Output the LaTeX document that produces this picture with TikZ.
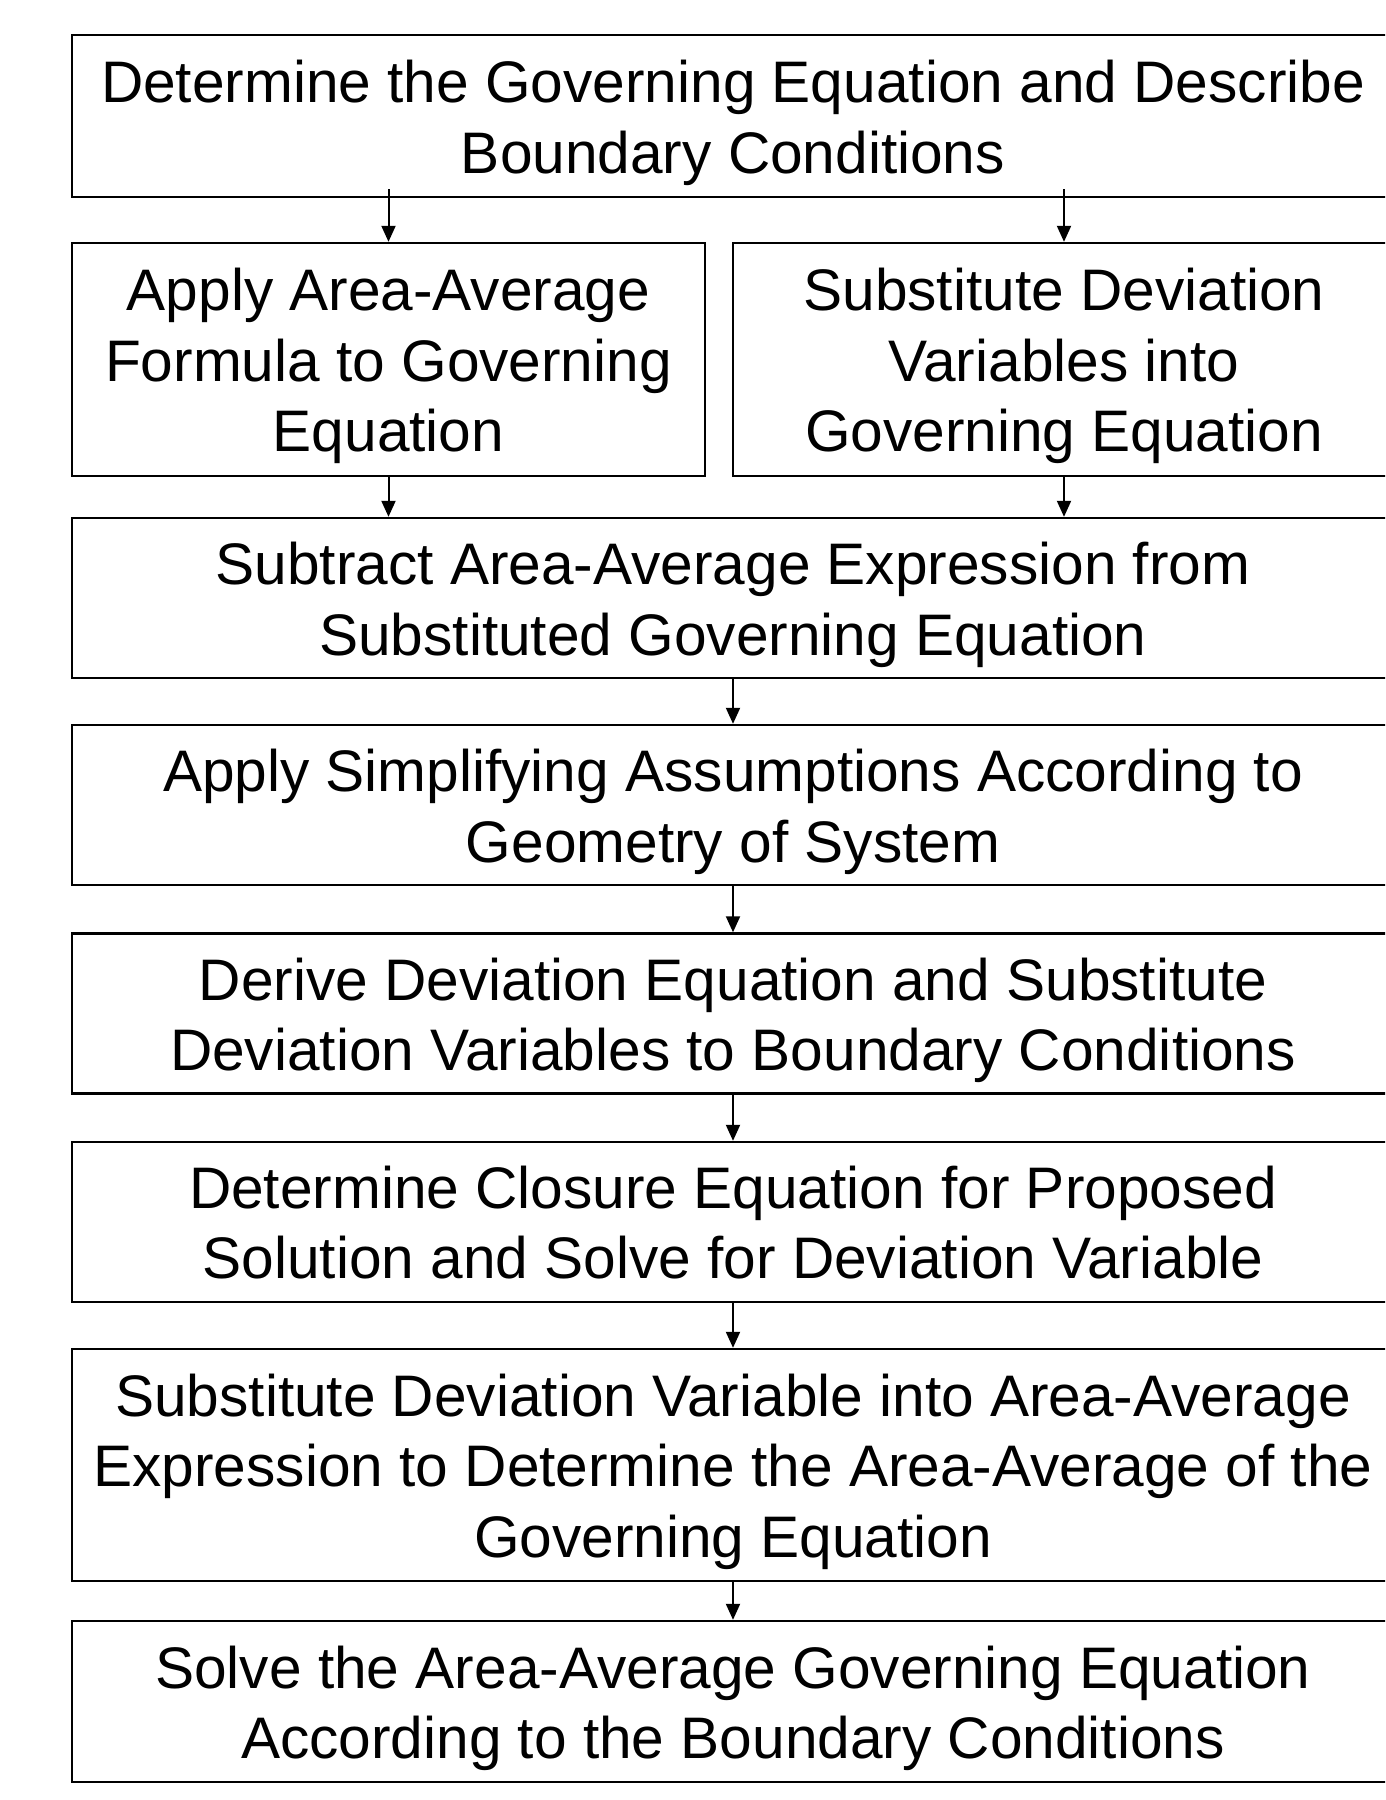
\documentclass[tikz,border=0pt]{standalone}
\usepackage{fontspec}
\setmainfont{Liberation Sans}
\usetikzlibrary{arrows.meta}
% taller first line, so each text block sits a little lower in its box
\newcommand{\firstln}[1][56pt]{\rule{0pt}{#1}}
\begin{document}
\begin{tikzpicture}[x=1pt,y=-1pt,
  stepbox/.style={draw=black, line width=2.4pt, rectangle, align=center,
    inner sep=0pt, font=\fontsize{58.6}{70.5}\selectfont},
  wide/.style={stepbox, minimum width=1322pt},
  flow/.style={draw=black, line width=2pt, -{Triangle[length=16pt,width=14pt]}}]
\useasboundingbox (0,0) rectangle (1385,1800);
\fill[white] (0,0) rectangle (1385,1800);
\clip (0,0) rectangle (1385,1800);

% process steps
\node[wide, minimum height=162pt] (b1) at (733,116)
  {\firstln Determine the Governing Equation and Describe\\Boundary Conditions};
\node[stepbox, minimum width=633pt, minimum height=233pt] (b2) at (388.5,359.5)
  {\firstln Apply Area-Average\\Formula to Governing\\Equation};
\node[stepbox, minimum width=662pt, minimum height=233pt] (b3) at (1064,359.5)
  {\firstln Substitute Deviation\\Variables into\\Governing Equation};
\node[wide, minimum height=160pt] (b4) at (733,598)
  {\firstln Subtract Area-Average Expression from\\Substituted Governing Equation};
\node[wide, minimum height=160pt] (b5) at (733,805)
  {\firstln Apply Simplifying Assumptions According to\\Geometry of System};
\node[wide, minimum height=160pt] (b6) at (733,1013.5)
  {\firstln Derive Deviation Equation and Substitute\\Deviation Variables to Boundary Conditions};
\node[wide, minimum height=160pt] (b7) at (733,1222)
  {\firstln[44pt]Determine Closure Equation for Proposed\\Solution and Solve for Deviation Variable};
\node[wide, minimum height=232pt] (b8) at (733,1465)
  {\firstln Substitute Deviation Variable into Area-Average\\Expression to Determine the Area-Average of the\\Governing Equation};
\node[wide, minimum height=161pt] (b9) at (733,1701.5)
  {\firstln Solve the Area-Average Governing Equation\\According to the Boundary Conditions};

% connectors
\draw[flow] ([yshift=9pt]b1.south -| b2.north) -- (b2.north);
\draw[flow] ([yshift=9pt]b1.south -| b3.north) -- (b3.north);
\draw[flow] (b2.south) -- (b2.south |- b4.north);
\draw[flow] (b3.south) -- (b3.south |- b4.north);
\draw[flow] (b4.south) -- (b5.north);
\draw[flow] (b5.south) -- (b6.north);
\draw[flow] (b6.south) -- (b7.north);
\draw[flow] (b7.south) -- (b8.north);
\draw[flow] (b8.south) -- (b9.north);
\end{tikzpicture}
\end{document}
